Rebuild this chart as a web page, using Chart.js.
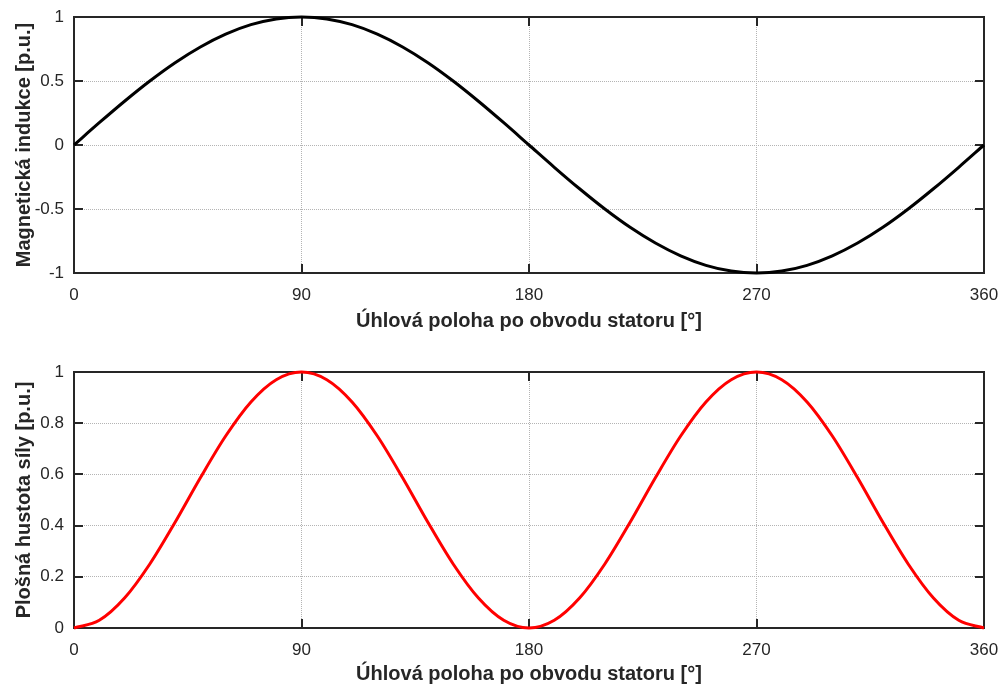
<!DOCTYPE html>
<html>
<head>
<meta charset="utf-8">
<script src="https://cdn.jsdelivr.net/npm/chart.js@4"></script>
<style>
  html, body { margin: 0; padding: 0; background: #fff; }
  #wrap { position: relative; width: 998px; height: 686px; }
  .pane { position: absolute; left: 0; width: 998px; }
  #top { top: 0; height: 333px; }
  #bottom { top: 333px; height: 353px; }
</style>
</head>
<body>
<div id="wrap">
  <div class="pane" id="top"><canvas id="c1" width="998" height="333"></canvas></div>
  <div class="pane" id="bottom"><canvas id="c2" width="998" height="353"></canvas></div>
</div>
<script>
// Angular position along the stator circumference [deg]
const angles = [0, 10, 20, 30, 40, 50, 60, 70, 80, 90,
  100, 110, 120, 130, 140, 150, 160, 170, 180,
  190, 200, 210, 220, 230, 240, 250, 260, 270,
  280, 290, 300, 310, 320, 330, 340, 350, 360];

// Magnetic flux density [p.u.]
const induction = [0, 0.174, 0.342, 0.5, 0.643, 0.766, 0.866, 0.94, 0.985, 1,
  0.985, 0.94, 0.866, 0.766, 0.643, 0.5, 0.342, 0.174, 0,
  -0.174, -0.342, -0.5, -0.643, -0.766, -0.866, -0.94, -0.985, -1,
  -0.985, -0.94, -0.866, -0.766, -0.643, -0.5, -0.342, -0.174, 0];

// Surface force density [p.u.]
const forceDensity = [0, 0.03, 0.117, 0.25, 0.413, 0.587, 0.75, 0.883, 0.97, 1,
  0.97, 0.883, 0.75, 0.587, 0.413, 0.25, 0.117, 0.03, 0,
  0.03, 0.117, 0.25, 0.413, 0.587, 0.75, 0.883, 0.97, 1,
  0.97, 0.883, 0.75, 0.587, 0.413, 0.25, 0.117, 0.03, 0];

const xTicks = [0, 90, 180, 270, 360];
const xTickLabels = ['0', '90', '180', '270', '360'];
const yTicksTop = [-1, -0.5, 0, 0.5, 1];
const yTickLabelsTop = ['-1', '-0.5', '0', '0.5', '1'];
const yTicksBottom = [0, 0.2, 0.4, 0.6, 0.8, 1];
const yTickLabelsBottom = ['0', '0.2', '0.4', '0.6', '0.8', '1'];

const xTitle = 'Úhlová poloha po obvodu statoru [°]';
const yTitleTop = 'Magnetická indukce [p.u.]';
const yTitleBottom = 'Plošná hustota síly [p.u.]';

const FONT = '"Liberation Sans", Arial, Helvetica, sans-serif';
const AXIS_COLOR = '#262626';
const GRID_COLOR = '#b4b4b4';
const TICK_LEN = 9;

// Axes box with inward ticks on all four sides
const boxPlugin = {
  id: 'box',
  beforeDatasetsDraw(chart) {
    const { ctx, chartArea: a, scales } = chart;
    ctx.save();
    ctx.strokeStyle = AXIS_COLOR;
    ctx.lineWidth = 2;
    ctx.setLineDash([]);
    ctx.beginPath();
    scales.x.ticks.forEach(t => {
      const px = Math.round(scales.x.getPixelForValue(t.value));
      ctx.moveTo(px, a.bottom); ctx.lineTo(px, a.bottom - TICK_LEN);
      ctx.moveTo(px, a.top); ctx.lineTo(px, a.top + TICK_LEN);
    });
    scales.y.ticks.forEach(t => {
      const py = Math.round(scales.y.getPixelForValue(t.value));
      ctx.moveTo(a.left, py); ctx.lineTo(a.left + TICK_LEN, py);
      ctx.moveTo(a.right, py); ctx.lineTo(a.right - TICK_LEN, py);
    });
    ctx.stroke();
    ctx.strokeRect(a.left, a.top, a.right - a.left, a.bottom - a.top);
    ctx.restore();
  }
};

function makeChart(canvasId, values, color, yTicks, yLabels, yMin, yMax, yTitle, padTop, xHeight) {
  const pts = angles.map((a, i) => ({ x: a, y: values[i] }));
  return new Chart(document.getElementById(canvasId), {
    type: 'line',
    data: {
      datasets: [{
        data: pts,
        borderColor: color,
        borderWidth: 3,
        pointRadius: 0,
        cubicInterpolationMode: 'monotone',
        fill: false,
        clip: 3
      }]
    },
    options: {
      responsive: false,
      animation: false,
      events: [],
      layout: { padding: { top: padTop, right: 14, bottom: 0, left: 0 } },
      plugins: { legend: { display: false }, tooltip: { enabled: false } },
      scales: {
        x: {
          type: 'linear',
          min: 0, max: 360,
          afterBuildTicks: s => { s.ticks = xTicks.map(v => ({ value: v })); },
          afterFit: s => { s.height = xHeight; s.paddingLeft = 0; s.paddingRight = 0; },
          border: { display: false, dash: [1, 1] },
          grid: { color: GRID_COLOR, lineWidth: 1, drawTicks: false },
          ticks: {
            padding: 12,
            color: AXIS_COLOR,
            font: { family: FONT, size: 17 },
            maxRotation: 0,
            callback: v => xTickLabels[xTicks.indexOf(v)]
          },
          title: {
            display: true, text: xTitle, color: AXIS_COLOR,
            font: { family: FONT, size: 20, weight: 'bold' },
            padding: { top: 0, bottom: 0 }
          }
        },
        y: {
          type: 'linear',
          min: yMin, max: yMax,
          afterBuildTicks: s => { s.ticks = yTicks.map(v => ({ value: v })); },
          afterFit: s => { s.width = 74; s.paddingTop = 0; s.paddingBottom = 0; },
          border: { display: false, dash: [1, 1] },
          grid: { color: GRID_COLOR, lineWidth: 1, drawTicks: false },
          ticks: {
            padding: 10,
            color: AXIS_COLOR,
            font: { family: FONT, size: 17 },
            callback: v => yLabels[yTicks.indexOf(v)]
          },
          title: {
            display: true, text: yTitle, color: AXIS_COLOR,
            font: { family: FONT, size: 20, weight: 'bold' },
            padding: { top: 12, bottom: 0 }
          }
        }
      }
    },
    plugins: [boxPlugin]
  });
}

makeChart('c1', induction, '#000000', yTicksTop, yTickLabelsTop, -1, 1, yTitleTop, 17, 60);
makeChart('c2', forceDensity, '#ff0000', yTicksBottom, yTickLabelsBottom, 0, 1, yTitleBottom, 39, 58);
</script>
</body>
</html>
